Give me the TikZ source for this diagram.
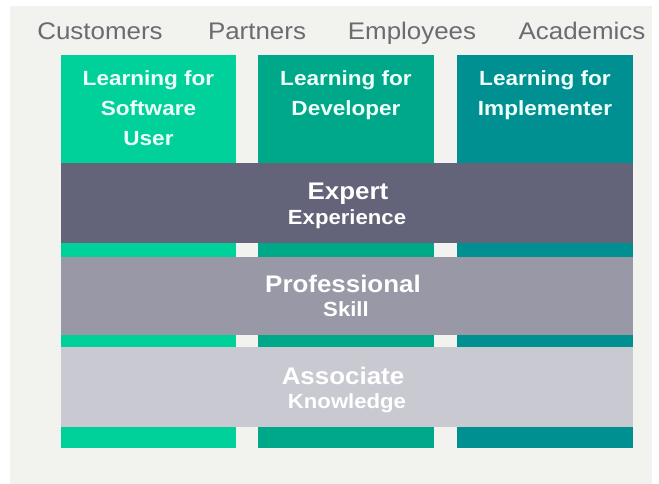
\documentclass[tikz,border=0pt]{standalone}
\usepackage{fontspec}
\setmainfont{Liberation Sans}
\newfontfamily\widesans[FakeStretch=1.08]{Liberation Sans}
\newfontfamily\widersans[FakeStretch=1.10]{Liberation Sans}
\definecolor{bgpanel}{HTML}{F2F2EF}
\definecolor{labelgray}{HTML}{6B6B70}
\definecolor{colA}{HTML}{00D09A}
\definecolor{colB}{HTML}{00A88A}
\definecolor{colC}{HTML}{009092}
\definecolor{bandExpert}{HTML}{636379}
\definecolor{bandPro}{HTML}{9898A7}
\definecolor{bandAssoc}{HTML}{C9CAD1}
\definecolor{coltextcol}{HTML}{EFFFFA}
\tikzset{
  audience/.style={anchor=base, text=labelgray, font=\widesans\fontsize{24}{28}\selectfont, inner sep=0pt},
  coltext/.style={anchor=north, text=coltextcol, font=\widersans\bfseries\fontsize{20.5}{30}\selectfont, align=center, inner sep=0pt},
  bandhead/.style={anchor=base, text=white, font=\widesans\bfseries\fontsize{24}{28}\selectfont, inner sep=0pt},
  bandsub/.style={anchor=base, text=white, font=\widesans\bfseries\fontsize{20.5}{24}\selectfont, inner sep=0pt},
}
\begin{document}
\begin{tikzpicture}[x=1pt,y=-1pt]
  \useasboundingbox (0,0) rectangle (659,484);
  \fill[white] (0,0) rectangle (659,484);
  \fill[bgpanel] (10,6) rectangle (652,484);

  % audience labels
  \node[audience] (cust) at (100,40) {Customers};
  \node[audience] (part) at (257,40) {Partners};
  \node[audience] (empl) at (412,40) {Employees};
  \node[audience] (acad) at (582,40) {Academics};

  % three learning columns
  \fill[colA] (61,55) rectangle (236,448);
  \fill[colB] (258,55) rectangle (434,448);
  \fill[colC] (457,55) rectangle (633,448);

  % level bands across the columns
  \fill[bandExpert] (61,163) rectangle (633,243);
  \fill[bandPro] (61,257) rectangle (633,335);
  \fill[bandAssoc] (61,347) rectangle (633,427);

  % column titles
  \node[coltext] (user) at (148.5,70) {Learning for\\Software\\User};
  \node[coltext] (dev) at (346,70) {Learning for\\Developer};
  \node[coltext] (impl) at (545,70) {Learning for\\Implementer};

  % band titles
  \node[bandhead] (expert) at (348,200) {Expert};
  \node[bandsub] (experience) at (347,225) {Experience};
  \node[bandhead] (pro) at (343,292) {Professional};
  \node[bandsub] (skill) at (346,316) {Skill};
  \node[bandhead] (assoc) at (343,384) {Associate};
  \node[bandsub] (know) at (347,408) {Knowledge};
\end{tikzpicture}
\end{document}
